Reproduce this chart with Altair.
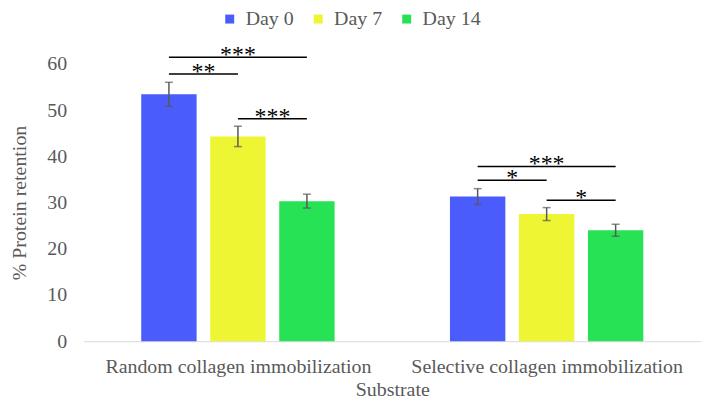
import altair as alt
import pandas as pd

substrates = ["Random collagen immobilization", "Selective collagen immobilization"]
days = ["Day 0", "Day 7", "Day 14"]
means_random = [53.4, 44.3, 30.3]
means_selective = [31.3, 27.5, 24.0]
err_random = [2.6, 2.2, 1.5]
err_selective = [1.7, 1.4, 1.3]
colors = ["#4a5cfc", "#eef533", "#27e255"]

# significance brackets: substrate index, from day index, to day index, height, label
br_sub = [0, 0, 0, 1, 1, 1]
br_from = [0, 0, 1, 0, 0, 1]
br_to = [2, 1, 2, 2, 1, 2]
br_y = [61.4, 57.8, 48.1, 37.8, 34.8, 30.5]
br_label = ["***", "**", "***", "***", "*", "*"]

STEP = 0.2235
HALF = 0.0897
FONT = "Liberation Serif"
GREY = "#595959"


def center(s, d):
    return s + 0.5 + (d - 1) * STEP


rows = []
for s, (means, errs) in enumerate([(means_random, err_random), (means_selective, err_selective)]):
    for d, day in enumerate(days):
        c = center(s, d)
        rows.append(dict(substrate=substrates[s], day=day, mean=means[d], zero=0.0,
                         lo=means[d] - errs[d], hi=means[d] + errs[d],
                         xc=c, x0=c - HALF, x1=c + HALF))
df = pd.DataFrame(rows)

br = pd.DataFrame(dict(
    x0=[center(s, a) for s, a in zip(br_sub, br_from)],
    x1=[center(s, b) for s, b in zip(br_sub, br_to)],
    y=br_y, label=br_label))
br["xm"] = (br.x0 + br.x1) / 2

xscale = alt.Scale(domain=[0, 2], nice=False, zero=False)
yscale = alt.Scale(domain=[0, 60], nice=False)

label_expr = "datum.value < 1 ? '%s' : '%s'" % (substrates[0], substrates[1])

base = alt.Chart(df)

bars = base.mark_bar().encode(
    x=alt.X("x0:Q", scale=xscale, axis=alt.Axis(
        title="Substrate", values=[0.5, 1.5], labelExpr=label_expr, labelLimit=0,
        grid=False, ticks=False, tickSize=0, domainColor="#d9d9d9", domainWidth=1,
        labelFont=FONT, labelFontSize=20, labelColor=GREY, labelPadding=15,
        titleFont=FONT, titleFontSize=20, titleFontWeight="normal", titleColor=GREY,
        titlePadding=4)),
    x2="x1:Q",
    y=alt.Y("mean:Q", scale=yscale, axis=alt.Axis(
        title="% Protein retention", values=[0, 10, 20, 30, 40, 50, 60],
        grid=False, ticks=False, tickSize=0, domain=False,
        labelFont=FONT, labelFontSize=20, labelColor=GREY, labelPadding=17,
        titleFont=FONT, titleFontSize=20, titleFontWeight="normal", titleColor=GREY,
        titlePadding=17)),
    y2="zero:Q",
    color=alt.Color("day:N", sort=days, scale=alt.Scale(domain=days, range=colors),
                    legend=alt.Legend(title=None, orient="none", direction="horizontal",
                                      legendX=137, legendY=-55, symbolType="square",
                                      symbolSize=81, symbolStrokeWidth=0,
                                      labelFont=FONT, labelFontSize=20, labelColor=GREY,
                                      labelOffset=6, columnPadding=14, labelLimit=0)),
)

err = base.mark_rule(color=GREY, strokeWidth=1.5).encode(
    x=alt.X("xc:Q", scale=xscale), y=alt.Y("lo:Q", scale=yscale), y2="hi:Q")
cap_lo = base.mark_tick(color=GREY, orient="horizontal", size=8, thickness=1.5).encode(
    x=alt.X("xc:Q", scale=xscale), y=alt.Y("lo:Q", scale=yscale))
cap_hi = base.mark_tick(color=GREY, orient="horizontal", size=8, thickness=1.5).encode(
    x=alt.X("xc:Q", scale=xscale), y=alt.Y("hi:Q", scale=yscale))

bchart = alt.Chart(br)
lines = bchart.mark_rule(color="black", strokeWidth=1.5).encode(
    x=alt.X("x0:Q", scale=xscale), x2="x1:Q", y=alt.Y("y:Q", scale=yscale))
stars = bchart.mark_text(font=FONT, fontSize=24, color="black", baseline="alphabetic",
                         align="center", dy=5).encode(
    x=alt.X("xm:Q", scale=xscale), y=alt.Y("y:Q", scale=yscale), text="label:N")

chart = alt.layer(bars, err, cap_lo, cap_hi, lines, stars).properties(
    width=621, height=279,
    autosize=alt.AutoSizeParams(type="none"),
    padding={"left": 76, "top": 55, "right": 0, "bottom": 60},
).configure_view(stroke=None)

chart.save("out.html", embed_options={"renderer": "svg", "actions": False})
